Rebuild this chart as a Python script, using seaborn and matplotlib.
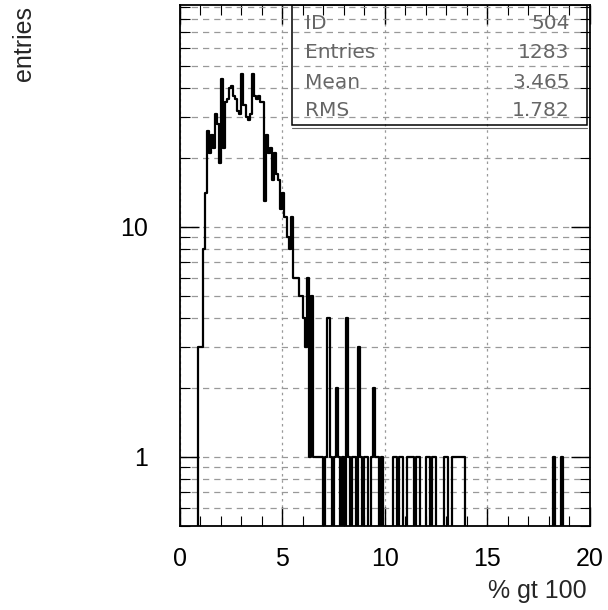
import numpy as np
import pandas as pd
import seaborn as sns
import matplotlib.pyplot as plt
from matplotlib.patches import Rectangle
from matplotlib.ticker import FixedLocator, LogLocator, NullFormatter

# histogram: 200 bins of 0.1 between 0 and 20
bin_width = 0.1
n_bins = 200

# counts, bins starting at 0.9
core_first = 0.9
core_counts = [
    3, 3, 8, 14, 26, 21, 25, 22, 31, 28,      # 0.9 - 1.8
    19, 44, 22, 35, 36, 40, 41, 37, 36, 32,   # 1.9 - 2.8
    31, 46, 34, 30, 29, 31, 46, 37, 36, 37,   # 2.9 - 3.8
    35, 35, 13, 25, 21, 22, 16, 21, 17, 16,   # 3.9 - 4.8
    12, 14, 11, 9, 8, 11, 6, 6, 6, 5,         # 4.9 - 5.8
    5, 4, 3, 6, 1, 5, 1, 1, 1, 1, 1,          # 5.9 - 6.9
    0, 1, 4, 1, 0, 1, 2, 1, 0, 1,             # 7.0 - 7.9
    0, 4, 1, 0, 1, 1, 0, 3, 1, 0,             # 8.0 - 8.9
    1, 1, 0, 1, 2, 1, 1, 0, 1,                # 9.0 - 9.8
]
# single entries further out in the tail
tail_ones = [10.4, 10.5, 10.7, 10.8, 11.1, 11.2, 11.3, 11.5, 11.6,
             12.0, 12.1, 12.3, 12.4, 12.9, 13.0, 13.3, 13.4, 13.5,
             13.6, 13.7, 13.8, 18.2, 18.6]

stats_labels = ["ID", "Entries", "Mean", "RMS"]
stats_values = ["504", "1283", "3.465", "1.782"]

edges = np.round(np.arange(n_bins + 1) * bin_width, 2)
counts = np.zeros(n_bins)
i0 = int(round(core_first / bin_width))
counts[i0:i0 + len(core_counts)] = core_counts
for x in tail_ones:
    counts[int(round(x / bin_width))] += 1

df = pd.DataFrame({"pct": edges[:-1] + bin_width / 2, "n": counts})

sns.set_style("ticks")
plt.rcParams["font.family"] = ["Liberation Sans", "DejaVu Sans"]

fig = plt.figure(figsize=(6.08, 6.10), dpi=100)
ax = fig.add_axes([0.296, 0.1377, 0.674, 0.854])

sns.histplot(data=df, x="pct", weights="n", binwidth=bin_width, binrange=(0, 20),
             element="step", fill=False, color="black", linewidth=1.6, ax=ax)

ax.set_yscale("log")
ax.set_xlim(0, 20)
ax.set_ylim(0.5, 92)

# ticks like PAW: inside, on all four sides
ax.xaxis.set_major_locator(FixedLocator([0, 5, 10, 15, 20]))
ax.xaxis.set_minor_locator(FixedLocator(np.arange(0, 21, 1)))
ax.yaxis.set_major_locator(FixedLocator([1, 10]))
ax.yaxis.set_minor_locator(LogLocator(base=10, subs=np.arange(2, 10)))
ax.yaxis.set_minor_formatter(NullFormatter())
ax.set_yticklabels(["1", "10"])
ax.tick_params(which="both", direction="in", top=True, right=True,
               colors="black", labelsize=18)
ax.tick_params(which="major", length=14, width=1)
ax.tick_params(which="minor", length=7, width=0.8)
ax.tick_params(axis="x", pad=15)
ax.tick_params(axis="y", pad=23)

ax.set_axisbelow(True)
ax.yaxis.grid(True, which="both", linestyle=(0, (5, 4)), color="0.6", linewidth=0.9)
ax.xaxis.grid(True, which="major", linestyle=(0, (2, 3)), color="0.6", linewidth=0.9)

for s in ax.spines.values():
    s.set_linewidth(1.3)
    s.set_color("black")

ax.set_xlabel("")
ax.set_ylabel("")
fig.text(0.965, 0.02, "% gt 100", ha="right", va="baseline", fontsize=18)
fig.text(0.04, 0.99, "entries", ha="center", va="top", rotation=90, fontsize=18)

# statistics box
box_l, box_r, box_b = 0.273, 0.993, 0.770
ax.add_patch(Rectangle((box_l, box_b), box_r - box_l, 1 - box_b, transform=ax.transAxes,
                       fill=False, edgecolor="black", linewidth=1.1, zorder=5))
ax.plot([box_l, box_r], [box_b - 0.006, box_b - 0.006], transform=ax.transAxes,
        color="0.4", linewidth=0.8, zorder=5)
row_y = [0.965, 0.908, 0.852, 0.798]
for lab, val, y in zip(stats_labels, stats_values, row_y):
    ax.text(0.305, y, lab, transform=ax.transAxes, ha="left", va="center",
            fontsize=14.5, color="0.4", family="DejaVu Sans", zorder=6)
    ax.text(0.951, y, val, transform=ax.transAxes, ha="right", va="center",
            fontsize=14.5, color="0.4", family="DejaVu Sans", zorder=6)

fig.savefig("out.png", dpi=100)
